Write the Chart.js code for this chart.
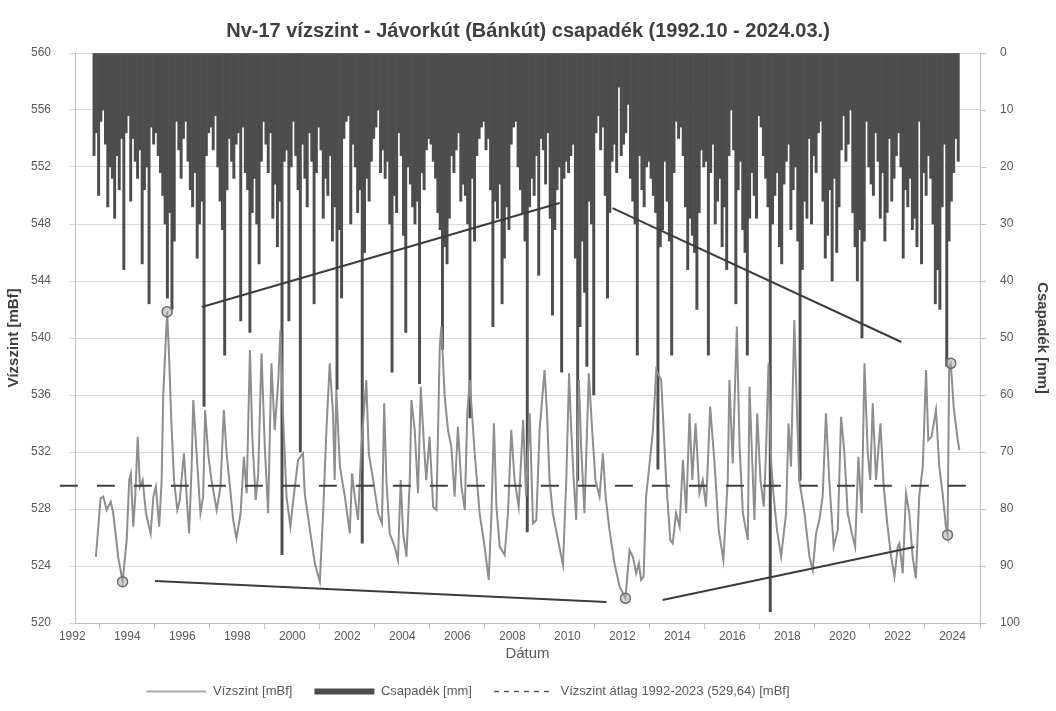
<!DOCTYPE html>
<html lang="hu">
<head>
<meta charset="utf-8">
<title>Nv-17 vízszint - Jávorkút (Bánkút) csapadék</title>
<script src="https://cdn.jsdelivr.net/npm/chart.js@4/dist/chart.umd.min.js"></script>
<style>
  html, body { margin: 0; padding: 0; background: #ffffff; }
  #wrap { width: 1056px; height: 711px; }
</style>
</head>
<body>
<div id="wrap"><canvas id="chart" width="1056" height="711"></canvas></div>
<script>
// Year labels on the date axis
const yearTicks = [1992, 1994, 1996, 1998, 2000, 2002, 2004, 2006, 2008, 2010,
                   2012, 2014, 2016, 2018, 2020, 2022, 2024];

// Water level of well Nv-17 (decimal year, mBf)
const levelYears = [
  1992.86, 1993.03, 1993.13, 1993.25, 1993.40, 1993.49, 1993.67, 1993.83, 1993.98, 1994.07,
  1994.13, 1994.22, 1994.29, 1994.38, 1994.46, 1994.56, 1994.68, 1994.85, 1994.95, 1995.04,
  1995.16, 1995.25, 1995.31, 1995.40, 1995.45, 1995.53, 1995.60, 1995.70, 1995.82, 1995.91,
  1996.06, 1996.16, 1996.25, 1996.34, 1996.40, 1996.49, 1996.66, 1996.76, 1996.83, 1996.94,
  1997.06, 1997.25, 1997.39, 1997.51, 1997.61, 1997.71, 1997.85, 1997.97, 1998.12, 1998.24,
  1998.34, 1998.46, 1998.55, 1998.67, 1998.76, 1998.88, 1999.00, 1999.12, 1999.24, 1999.36,
  1999.49, 1999.57, 1999.67, 1999.79, 1999.93, 2000.05, 2000.21, 2000.39,
  2000.45, 2000.64, 2000.82, 2001.00, 2001.12, 2001.24, 2001.36, 2001.48, 2001.54, 2001.60,
  2001.73, 2001.91, 2002.09, 2002.17, 2002.27, 2002.39, 2002.51, 2002.69, 2002.78, 2002.94,
  2003.12, 2003.26, 2003.34, 2003.42, 2003.54, 2003.72, 2003.84, 2003.94, 2004.03, 2004.15,
  2004.27, 2004.33, 2004.45, 2004.57, 2004.67, 2004.79, 2004.87, 2004.99, 2005.12, 2005.24,
  2005.36, 2005.42, 2005.54, 2005.66, 2005.78, 2005.90, 2006.02, 2006.15, 2006.27, 2006.36,
  2006.45, 2006.63, 2006.81, 2006.99, 2007.14, 2007.24, 2007.33, 2007.42, 2007.54, 2007.72,
  2007.84, 2007.96, 2008.08, 2008.23, 2008.39, 2008.50,
  2008.63, 2008.75, 2008.87, 2008.99, 2009.17, 2009.26, 2009.35, 2009.47, 2009.66, 2009.84,
  2009.96, 2010.06, 2010.14, 2010.23, 2010.32, 2010.42, 2010.50, 2010.62, 2010.78, 2010.90,
  2011.02, 2011.17, 2011.29, 2011.39, 2011.53, 2011.71, 2011.90, 2012.11, 2012.26, 2012.38,
  2012.50, 2012.60, 2012.68, 2012.77, 2012.86, 2012.99, 2013.11, 2013.23, 2013.41, 2013.50,
  2013.59, 2013.74, 2013.83, 2013.95, 2014.08, 2014.20, 2014.32, 2014.44, 2014.54, 2014.66,
  2014.80, 2014.92, 2015.04, 2015.19, 2015.35, 2015.50, 2015.67, 2015.83, 2015.89, 2016.01,
  2016.16, 2016.26, 2016.38, 2016.56, 2016.62,
  2016.80, 2016.90, 2017.02, 2017.14, 2017.22, 2017.31, 2017.41, 2017.50, 2017.62, 2017.77,
  2017.95, 2018.04, 2018.13, 2018.25, 2018.35, 2018.43, 2018.62, 2018.80, 2018.92, 2019.04,
  2019.16, 2019.28, 2019.40, 2019.52, 2019.68, 2019.83, 2019.95, 2020.07, 2020.19, 2020.34,
  2020.46, 2020.58, 2020.70, 2020.80, 2020.92, 2021.01, 2021.10, 2021.22, 2021.38, 2021.50,
  2021.64, 2021.77, 2021.89, 2022.01, 2022.07, 2022.19, 2022.31, 2022.43, 2022.55, 2022.67,
  2022.79, 2022.92, 2023.04, 2023.12, 2023.24, 2023.40, 2023.52, 2023.64, 2023.76, 2023.82,
  2023.88, 2023.94, 2024.04, 2024.19, 2024.25
];
const levelMbf = [
  524.65, 528.75, 528.87, 527.93, 528.51, 527.70, 524.65, 522.90, 525.82, 530.03,
  530.50, 526.76, 528.87, 533.08, 529.57, 530.03, 527.70, 526.29, 528.87, 529.57,
  526.76, 530.03, 536.12, 539.86, 541.85, 538.22, 534.25, 530.03, 527.93, 528.63,
  531.91, 528.87, 526.29, 530.97, 535.65, 532.84, 527.70, 528.87, 534.95, 531.91,
  530.03, 527.93, 529.57, 534.95, 531.91, 530.03, 527.23, 525.94, 527.70, 531.67,
  529.10, 539.16, 532.84, 528.63, 530.50, 538.92, 532.37, 527.70, 538.22, 533.54,
  537.05, 540.56, 534.25, 528.87, 526.76, 528.87, 531.44, 531.91,
  529.10, 526.53, 524.19, 522.90, 527.70, 533.54, 538.22, 534.71, 530.03, 536.35,
  530.97, 528.87, 526.29, 530.50, 528.87, 527.23, 532.37, 537.05, 531.91, 530.03,
  527.70, 526.99, 535.42, 530.03, 526.29, 525.36, 524.42, 530.03, 526.29, 524.65,
  530.03, 535.65, 533.54, 529.10, 536.58, 532.37, 530.03, 533.08, 528.16, 527.93,
  539.39, 540.80, 535.88, 533.54, 532.37, 528.87, 533.78, 529.57, 527.93, 534.71,
  537.05, 531.91, 527.70, 525.36, 523.02, 527.70, 534.01, 528.16, 525.36, 524.77,
  527.70, 533.54, 530.03, 528.16, 534.25, 528.87,
  534.71, 526.99, 527.23, 533.54, 537.75, 534.71, 530.03, 527.70, 525.82, 524.07,
  530.03, 537.52, 533.54, 530.03, 527.23, 537.05, 532.37, 527.70, 537.52, 533.54,
  530.03, 528.87, 531.91, 528.87, 526.53, 524.19, 522.55, 521.73, 525.12, 524.65,
  523.48, 524.19, 523.02, 523.25, 528.87, 531.20, 533.54, 537.75, 537.05, 533.54,
  530.03, 525.82, 525.59, 527.70, 526.76, 531.44, 527.70, 534.71, 530.03, 534.01,
  529.10, 530.03, 528.16, 535.18, 531.20, 526.53, 524.42, 530.03, 537.05, 531.20,
  540.80, 532.37, 527.70, 525.82, 536.58,
  527.23, 534.71, 530.03, 528.16, 531.91, 538.22, 531.20, 528.87, 526.53, 524.65,
  527.70, 534.01, 530.97, 541.26, 534.71, 530.03, 527.70, 524.65, 523.72, 526.29,
  527.23, 528.87, 534.71, 530.03, 525.36, 526.53, 534.48, 531.91, 527.70, 526.29,
  525.36, 531.67, 527.70, 538.22, 531.91, 530.03, 535.42, 530.03, 534.01, 529.57,
  526.76, 524.65, 523.25, 525.36, 525.59, 523.48, 529.10, 527.70, 524.65, 523.13,
  528.87, 530.97, 537.75, 532.84, 533.08, 534.95, 530.97, 529.10, 526.76, 526.18,
  537.99, 538.22, 535.18, 532.84, 532.14
];

// Jávorkút (Bánkút) precipitation, largest daily amount of each month (mm), from 1992-10
const precipFirstYear = 1992;
const precipFirstMonth = 10;
const precipMm = [
  18, 14, 25,                                          // 1992
  12, 10, 16, 27, 20, 22, 29, 18, 24, 15, 38, 14,      // 1993
  11, 26, 15, 19, 22, 17, 37, 24, 20, 44, 13, 16,      // 1994
  14, 18, 21, 25, 30, 43, 28, 45, 33, 12, 17, 22,      // 1995
  15, 12, 19, 24, 27, 21, 36, 30, 26, 62, 18, 14,      // 1996
  13, 17, 11, 20, 26, 31, 53, 24, 15, 19, 22, 16,      // 1997
  14, 47, 13, 21, 24, 49, 28, 22, 30, 37, 19, 12,      // 1998
  16, 21, 14, 29, 23, 34, 26, 88, 19, 17, 47, 20,      // 1999
  12, 18, 24, 70, 16, 22, 27, 14, 19, 44, 21, 13,      // 2000
  17, 29, 22, 25, 18, 33, 27, 59, 31, 43, 15, 12,      // 2001
  11, 30, 16, 20, 28, 24, 86, 35, 22, 26, 19, 15,      // 2002
  13, 10, 21, 17, 22, 19, 30, 56, 25, 28, 14, 18,      // 2003
  32, 49, 20, 23, 27, 30, 26, 58, 21, 24, 17, 15,      // 2004
  16, 19, 22, 28, 31, 52, 34, 37, 29, 18, 21, 17,      // 2005
  14, 26, 23, 25, 30, 64, 22, 33, 18, 15, 13, 12,      // 2006
  17, 15, 24, 48, 26, 29, 23, 44, 36, 27, 31, 16,      // 2007
  13, 12, 20, 24, 28, 33, 84, 27, 22, 25, 18, 39,      // 2008
  15, 17, 23, 14, 29, 46, 31, 24, 20, 56, 22, 19,      // 2009
  21, 18, 16, 36, 75, 48, 33, 42, 55, 26, 30, 60,      // 2010
  14, 11, 17, 13, 25, 43, 28, 19, 16, 21, 6, 18,       // 2011
  16, 14, 9, 22, 26, 30, 53, 18, 24, 27, 20, 19,       // 2012
  22, 25, 28, 73, 34, 31, 19, 26, 33, 53, 21, 12,      // 2013
  15, 13, 18, 27, 38, 29, 32, 35, 45, 28, 17, 20,      // 2014
  19, 53, 21, 16, 30, 26, 22, 34, 27, 38, 18, 10,      // 2015
  17, 44, 24, 19, 31, 35, 53, 29, 21, 25, 29, 11,      // 2016
  13, 18, 22, 27, 98, 30, 25, 21, 34, 37, 23, 19,      // 2017
  16, 31, 24, 20, 33, 75, 38, 26, 29, 15, 30, 18,      // 2018
  21, 14, 12, 26, 36, 32, 24, 40, 22, 35, 27, 17,      // 2019
  11, 19, 16, 10, 28, 34, 40, 31, 50, 33, 12, 20,      // 2020
  23, 25, 14, 19, 29, 21, 33, 28, 15, 26, 22, 18,      // 2021
  14, 20, 36, 24, 27, 22, 31, 29, 34, 12, 37, 21,      // 2022
  25, 18, 22, 30, 44, 38, 45, 27, 16, 55, 33, 26,      // 2023
  21, 15, 19                                           // 2024
];

// Long-term mean water level 1992-2023 (mBf) and the span of its reference line
const meanLevel = 529.64;
const meanSpan = [1991.55, 2024.5];

// Marked extremes of the water level (decimal year, mBf)
const extremeYears = [1993.83, 1995.45, 2012.11, 2023.82, 2023.94];
const extremeMbf = [522.90, 541.85, 521.73, 526.18, 538.22];

// Hand-drawn tendency lines: [start year, start mBf, end year, end mBf]
const trendUpperRise = [1996.71, 542.18, 2009.72, 549.47];
const trendUpperFall = [2011.64, 549.12, 2022.14, 539.72];
const trendLowerFall = [1995.01, 522.95, 2011.42, 521.47];
const trendLowerRise = [2013.46, 521.61, 2022.61, 525.33];

// ---------------------------------------------------------------------------
const FONT = "'Liberation Sans', Arial, sans-serif";
const TEXT = '#595959';
const AXIS = '#bfbfbf';

const levelPoints = levelYears.map((x, i) => ({ x, y: levelMbf[i] }));
const precipPoints = precipMm.map((v, i) => {
  const m = precipFirstMonth - 1 + i;
  return { x: precipFirstYear + Math.floor(m / 12) + ((m % 12) + 0.5) / 12, y: v };
});
const extremePoints = extremeYears.map((x, i) => ({ x, y: extremeMbf[i] }));
const segment = s => [{ x: s[0], y: s[1] }, { x: s[2], y: s[3] }];

const trendStyle = {
  type: 'line', yAxisID: 'y', borderColor: '#3c3c3c', borderWidth: 2,
  pointRadius: 0, tension: 0, order: 0
};

const meanLabel = 'Vízszint átlag 1992-2023 (' + meanLevel.toFixed(2).replace('.', ',') + ') [mBf]';

const datasets = [
  { label: 'Vízszint [mBf]', type: 'line', yAxisID: 'y', data: levelPoints,
    borderColor: '#8e8e8e', borderWidth: 2, pointRadius: 0, tension: 0, order: 2,
    legendLine: { color: '#a8a8a8', width: 2 } },
  { label: 'Csapadék [mm]', type: 'bar', xAxisID: 'x', yAxisID: 'y2', data: precipPoints,
    backgroundColor: '#4d4d4d', borderWidth: 0, barPercentage: 1, categoryPercentage: 1,
    order: 3, legendLine: { color: '#4d4d4d', width: 6 } },
  { label: meanLabel, type: 'line', yAxisID: 'y',
    data: [{ x: meanSpan[0], y: meanLevel }, { x: meanSpan[1], y: meanLevel }],
    borderColor: '#3f3f3f', borderWidth: 2, borderDash: [18, 19], pointRadius: 0,
    clip: false, order: 1, legendLine: { color: '#5a5a5a', width: 1.5, dash: [5, 5] } },
  Object.assign({ label: 'upper rise', data: segment(trendUpperRise) }, trendStyle),
  Object.assign({ label: 'upper fall', data: segment(trendUpperFall) }, trendStyle),
  Object.assign({ label: 'lower fall', data: segment(trendLowerFall) }, trendStyle),
  Object.assign({ label: 'lower rise', data: segment(trendLowerRise) }, trendStyle),
  { label: 'extremes', type: 'line', yAxisID: 'y', data: extremePoints, showLine: false,
    pointRadius: 5, pointBackgroundColor: 'rgba(175,175,175,0.55)',
    pointBorderColor: '#6e6e6e', pointBorderWidth: 1.5, order: 0 }
];

// Moves the legend row a little to the left of the canvas centre
const legendShift = {
  id: 'legendShift',
  afterLayout(chart) {
    const lg = chart.legend;
    if (lg) { lg.left -= 60; lg.right -= 60; }
  }
};

new Chart(document.getElementById('chart'), {
  type: 'bar',
  data: { datasets },
  plugins: [legendShift],
  options: {
    responsive: false,
    devicePixelRatio: 1,
    animation: false,
    events: [],
    layout: { padding: { left: 0, right: 0, top: 0, bottom: 3 } },
    plugins: {
      tooltip: { enabled: false },
      title: {
        display: true,
        text: 'Nv-17 vízszint - Jávorkút (Bánkút) csapadék (1992.10 - 2024.03.)',
        color: '#404040',
        font: { family: FONT, size: 20, weight: 'bold' },
        padding: { top: 19, bottom: 10 }
      },
      legend: {
        position: 'bottom',
        labels: {
          usePointStyle: true,
          pointStyleWidth: 60,
          padding: 22,
          color: TEXT,
          font: { family: FONT, size: 13 },
          generateLabels(chart) {
            return chart.data.datasets
              .map((ds, i) => ({ ds, i }))
              .filter(o => o.ds.legendLine)
              .map(({ ds, i }) => ({
                text: ds.label,
                datasetIndex: i,
                pointStyle: 'line',
                fillStyle: ds.legendLine.color,
                strokeStyle: ds.legendLine.color,
                lineWidth: ds.legendLine.width,
                lineDash: ds.legendLine.dash || [],
                lineCap: 'butt',
                fontColor: TEXT,
                hidden: false
              }));
          }
        }
      }
    },
    scales: {
      x: {
        type: 'linear',
        position: 'bottom',
        min: 1992.1,
        max: 2025,
        offset: false,
        afterBuildTicks(scale) { scale.ticks = yearTicks.map(v => ({ value: v })); },
        afterFit(scale) { scale.height = 40; },
        ticks: {
          autoSkip: false, maxRotation: 0, padding: 0, color: TEXT,
          font: { family: FONT, size: 12 },
          callback: v => String(v)
        },
        grid: { drawOnChartArea: false, drawTicks: true, tickLength: 6, color: AXIS },
        border: { color: AXIS },
        title: {
          display: true, text: 'Dátum', color: TEXT,
          font: { family: FONT, size: 15 },
          padding: { top: 0, bottom: 0 }
        }
      },
      y: {
        position: 'left',
        min: 520,
        max: 560,
        afterFit(scale) { scale.width = 75; },
        ticks: { stepSize: 4, padding: 18, color: TEXT, font: { family: FONT, size: 12 } },
        grid: { color: '#d9d9d9', tickLength: 6 },
        border: { color: AXIS },
        title: {
          display: true, text: 'Vízszint [mBf]', color: '#404040',
          font: { family: FONT, size: 15, weight: 'bold' },
          padding: { top: 5, bottom: 0 }
        }
      },
      y2: {
        position: 'right',
        min: 0,
        max: 100,
        reverse: true,
        afterFit(scale) { scale.width = 76; },
        ticks: { stepSize: 10, padding: 14, color: TEXT, font: { family: FONT, size: 12 } },
        grid: { drawOnChartArea: false, tickLength: 6, color: AXIS },
        border: { color: AXIS },
        title: {
          display: true, text: 'Csapadék [mm]', color: '#404040',
          font: { family: FONT, size: 15, weight: 'bold' },
          padding: { top: 5, bottom: 0 }
        }
      }
    }
  }
});
</script>
</body>
</html>
